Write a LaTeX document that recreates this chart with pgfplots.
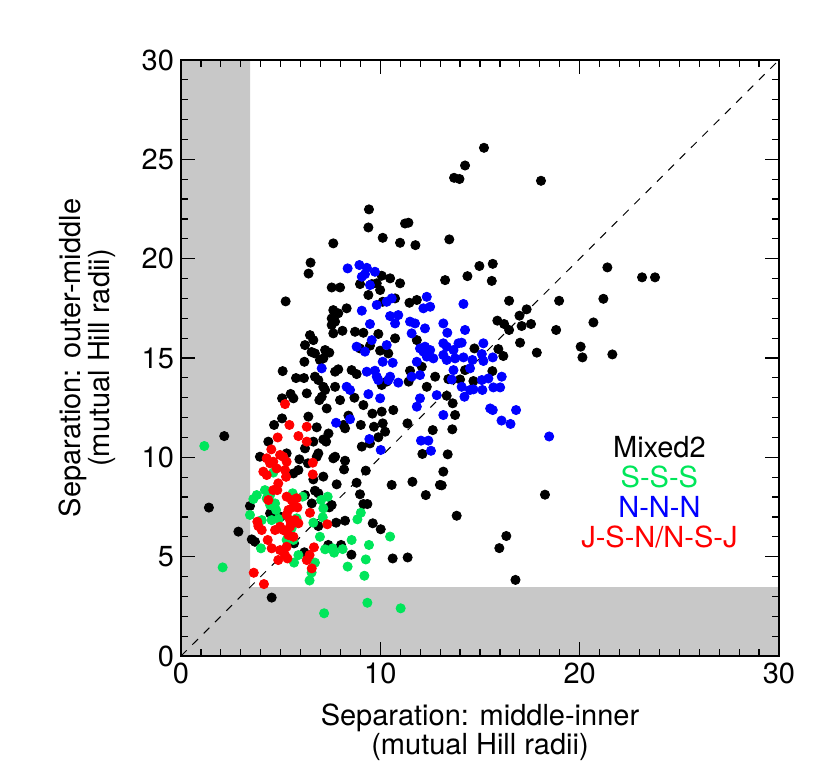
\documentclass[border=0pt]{standalone}
\usepackage{fontspec}
\setmainfont{TeX Gyre Heros}
\usepackage{pgfplots}
\usepackage{pgfplotstable}
\pgfplotsset{compat=1.18}
\definecolor{sgreen}{RGB}{0,230,90}
\definecolor{shade}{RGB}{200,200,200}

\newcommand{\lblfont}{\fontsize{14.5}{13}\selectfont}

\pgfplotstableread{
x y
6.5 19.8
6.4 19.25
5.25 17.85
6.22 15.65
6.19 14.81
5.10 14.34
5.77 13.99
6.17 13.99
5.50 13.19
5.07 12.97
5.64 12.97
6.31 13.22
5.07 11.96
6.39 12.05
6.55 15.3
2.17 11.07
1.40 7.47
2.88 6.26
4.55 2.94
3.46 7.55
3.55 5.87
3.71 5.75
3.96 10.03
4.38 10.79
4.67 11.63
5.30 10.20
5.94 9.90
6.37 9.70
5.64 9.19
5.89 9.36
6.22 10.45
4.47 7.18
4.72 7.01
6.22 8.10
5.00 7.01
5.67 5.67
6.19 5.22
6.39 5.00
9.43 22.48
9.40 21.57
10.12 21.05
11.24 21.77
11.41 21.81
7.64 20.77
10.99 20.80
11.76 20.68
10.07 19.14
10.49 19.01
15.20 25.58
14.25 24.69
13.70 24.07
13.97 24.01
18.06 23.92
13.46 20.97
14.97 19.63
15.64 19.74
14.37 19.12
13.25 18.92
15.59 18.88
21.39 19.56
23.13 19.06
23.78 19.06
21.19 17.98
20.69 16.79
20.05 15.57
20.14 15.03
21.64 15.18
16.46 17.88
18.97 17.88
17.34 17.45
16.98 17.13
15.87 16.88
16.21 16.71
16.46 16.41
17.09 16.61
17.56 16.71
18.82 16.41
17.01 15.77
17.85 15.27
14.72 15.48
15.92 15.45
16.17 15.10
15.62 14.34
14.25 14.39
13.41 13.94
14.00 13.92
14.67 13.84
13.33 13.10
13.63 12.72
13.75 12.13
13.61 11.41
13.38 10.15
13.16 9.28
13.08 8.59
18.26 8.12
13.83 7.06
16.32 6.04
15.97 5.43
16.78 3.83
6.81 11.51
8.15 11.63
8.23 11.46
9.02 11.63
9.68 11.54
10.12 11.71
10.24 11.29
11.36 11.71
9.90 11.01
9.07 10.54
9.48 10.70
6.64 10.79
7.14 10.90
7.28 10.79
6.89 10.20
6.81 10.03
7.73 10.03
7.64 9.95
8.23 9.83
8.18 9.39
7.14 9.03
9.27 9.33
8.81 8.72
7.81 8.64
6.64 8.89
6.72 8.32
6.89 8.19
6.56 7.68
7.56 7.60
7.44 7.48
8.98 8.14
9.15 7.65
9.35 7.65
10.57 8.61
11.61 8.77
12.28 8.10
12.99 8.61
8.23 6.81
7.78 6.71
6.89 6.54
9.62 6.68
10.02 6.38
7.39 5.59
8.03 5.59
8.55 5.10
10.62 4.91
11.37 4.96
12.63 11.37
12.11 10.17
7.56 18.55
7.98 18.55
8.98 18.72
9.40 18.17
9.57 18.72
9.82 18.76
9.99 18.42
10.99 18.76
11.46 17.78
11.83 17.92
10.74 18.00
10.12 17.83
7.64 17.41
7.89 17.25
8.31 17.50
7.56 16.99
7.73 16.83
7.56 16.66
7.64 16.24
8.10 16.37
8.73 16.32
9.15 16.27
6.47 16.15
6.64 15.90
6.72 15.23
9.90 16.21
10.74 15.99
9.48 15.62
7.23 15.40
7.44 15.27
7.14 14.98
6.97 14.90
9.99 15.37
10.40 15.23
8.98 15.48
7.89 14.43
7.73 14.31
8.56 14.39
8.81 14.19
6.72 14.06
6.89 13.89
7.14 13.55
7.23 13.39
7.06 13.05
6.94 12.88
7.73 13.55
10.07 13.64
10.32 13.81
9.15 12.63
10.07 12.30
7.98 12.88
7.31 12.46
10.65 12.38
11.49 14.36
11.42 13.81
11.83 15.90
12.08 14.56
12.75 14.06
12.33 13.55
8.40 12.10
8.70 13.00
9.60 12.20
7.40 11.20
}\mixedtwo

\pgfplotstableread{
x y
8.36 19.51
8.95 19.68
9.32 19.54
9.73 19.34
9.07 19.09
9.23 19.22
9.48 18.67
9.07 17.38
9.48 16.71
9.57 15.90
8.81 15.57
9.23 15.32
10.32 15.65
10.12 14.81
10.62 14.76
9.32 14.31
9.73 14.36
9.82 14.06
9.90 13.89
10.49 14.06
10.40 13.89
10.90 13.76
8.31 13.55
8.48 13.39
9.40 13.18
9.99 12.97
7.06 14.48
9.82 17.67
10.32 17.83
10.57 18.00
10.90 17.16
10.49 17.11
10.74 16.74
11.49 16.83
11.74 16.74
11.57 16.24
12.24 16.49
12.33 18.08
12.50 17.58
12.16 17.50
11.99 15.48
12.24 15.57
12.50 15.40
12.16 15.32
12.33 15.07
12.66 14.98
11.83 14.81
11.99 14.14
11.57 14.06
11.99 12.97
11.83 12.55
12.83 13.13
8.48 11.92
7.78 11.74
9.45 10.92
10.02 10.37
12.04 10.84
12.41 10.84
12.54 10.33
14.17 17.72
13.16 16.74
13.36 16.27
14.25 16.41
13.16 15.74
13.33 15.57
13.67 15.40
13.92 15.74
14.08 15.77
13.16 15.15
13.33 14.90
13.75 14.98
14.17 15.03
13.67 14.39
14.62 14.90
15.17 15.74
15.09 15.20
15.17 14.85
15.64 15.03
14.50 14.48
13.58 13.92
16.09 14.06
15.09 13.89
15.42 13.97
14.08 13.55
14.50 13.39
14.67 13.42
15.12 13.39
15.67 13.52
16.01 13.52
14.22 13.05
15.51 12.46
15.64 12.38
16.81 12.38
16.08 11.85
13.16 12.13
16.53 11.68
18.47 11.05
}\nnn

\pgfplotstableread{
x y
1.17 10.57
2.09 4.46
3.63 7.90
3.46 7.10
4.01 5.42
4.63 9.23
4.21 8.35
4.47 8.10
4.30 7.93
4.47 7.60
4.72 7.68
4.77 7.35
5.60 8.19
6.10 8.02
5.80 6.93
5.55 6.43
5.64 5.84
5.89 5.08
5.67 4.70
6.45 3.80
6.55 4.20
4.05 6.84
4.55 6.84
5.30 5.84
7.03 7.85
7.36 8.02
7.14 7.43
7.11 6.98
6.64 6.71
9.02 7.21
8.85 6.88
6.97 6.00
7.23 5.37
7.61 5.42
7.68 5.20
8.11 5.38
8.56 5.84
9.43 5.59
10.49 6.01
9.27 4.86
8.36 4.50
9.20 4.04
6.72 4.70
7.18 2.15
9.35 2.68
11.02 2.40
3.80 8.10
4.90 6.90
}\sss

\pgfplotstableread{
x y
5.22 12.68
3.65 4.19
4.16 3.62
4.30 9.95
4.47 9.70
4.63 9.78
4.53 10.40
5.44 11.63
4.85 11.00
5.89 11.07
4.97 10.12
5.13 10.03
5.30 9.78
4.13 9.28
4.30 9.11
4.80 9.44
5.22 9.36
5.27 9.02
6.31 10.79
6.31 11.54
4.88 8.69
4.83 8.35
4.63 8.35
4.38 7.85
5.30 8.02
5.55 7.85
5.80 7.94
5.64 7.51
5.84 7.48
5.39 7.35
5.30 7.10
5.47 6.84
5.72 6.84
5.89 6.68
5.47 6.51
5.13 6.34
4.97 6.51
4.72 6.34
5.39 6.09
5.64 6.00
5.30 5.50
4.97 5.33
5.22 5.08
4.88 4.83
5.34 4.91
4.35 5.84
4.55 5.42
3.83 6.76
3.88 6.54
4.05 6.34
6.45 5.08
6.31 4.83
6.61 9.73
6.61 9.14
6.47 7.21
7.34 6.63
6.67 5.47
6.56 4.41
}\jsn

\begin{document}
\begin{tikzpicture}
\begin{axis}[
    width=299pt, height=298pt, scale only axis,
    xmin=0, xmax=30, ymin=0, ymax=30,
    xtick={0,10,20,30}, ytick={0,5,10,15,20,25,30},
    minor x tick num=9, minor y tick num=4,
    tick align=inside,
    major tick length=7pt, minor tick length=3.5pt,
    axis on top,
    axis line style={line width=0.6pt},
    every tick/.style={black, line width=0.6pt},
    /pgf/number format/assume math mode=true,
    ticklabel style={font=\lblfont},
    xlabel={Separation: middle-inner\\(mutual Hill radii)},
    ylabel={Separation: outer-middle\\(mutual Hill radii)},
    xlabel style={align=center, font=\lblfont, yshift=-3pt},
    ylabel style={align=center, font=\lblfont, yshift=6pt},
    dotstyle/.style={only marks, mark=*, mark size=2.3pt,
        mark options={solid, fill=#1, draw=#1}, color=#1},
]
% excluded (unstable) zone, below 2*sqrt(3)
\addplot[fill=shade, draw=none, mark=none]
    coordinates {(0,0) (30,0) (30,3.464) (3.464,3.464) (3.464,30) (0,30)} -- cycle;
\addplot[black, dash pattern=on 4pt off 4pt, line width=0.5pt, mark=none]
    coordinates {(0,0) (30,30)};

\addplot[dotstyle=black] table[x=x, y=y] {\mixedtwo};
\addplot[dotstyle=sgreen] table[x=x, y=y] {\sss};
\addplot[dotstyle=blue] table[x=x, y=y] {\nnn};
\addplot[dotstyle=red] table[x=x, y=y] {\jsn};

\node[font=\lblfont, text=black] at (axis cs:24,10.5) {Mixed2};
\node[font=\lblfont, text=sgreen] at (axis cs:24,9) {S-S-S};
\node[font=\lblfont, text=blue] at (axis cs:24,7.5) {N-N-N};
\node[font=\lblfont, text=red] at (axis cs:24,6) {J-S-N/N-S-J};
\end{axis}
\pgfresetboundingbox
\path ([xshift=-90.5pt,yshift=-57.5pt]current axis.south west)
    rectangle ([xshift=25.5pt,yshift=30pt]current axis.north east);
\end{tikzpicture}
\end{document}
